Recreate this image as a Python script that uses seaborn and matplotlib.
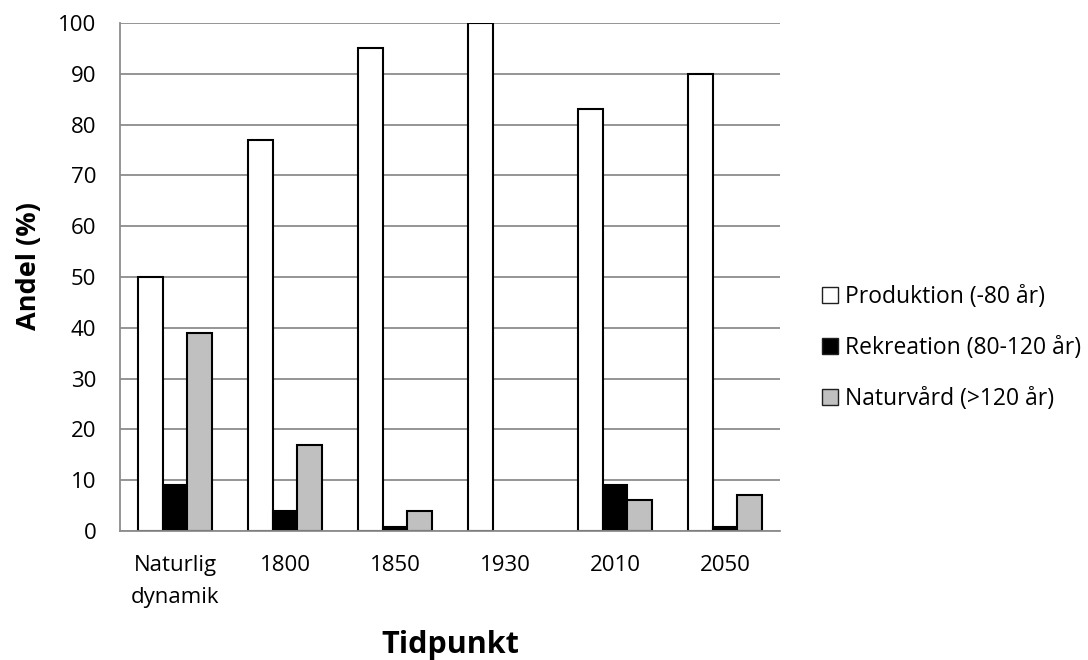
import matplotlib
matplotlib.use("Agg")
import matplotlib.pyplot as plt
import seaborn as sns
import pandas as pd
from matplotlib.patches import Patch

categories = ["Naturlig\ndynamik", "1800", "1850", "1930", "2010", "2050"]
series_names = ["Produktion (-80 år)", "Rekreation (80-120 år)", "Naturvård (>120 år)"]
produktion = [50, 77, 95, 100, 83, 90]
rekreation = [9, 4, 0.8, 0, 9, 0.8]
naturvard = [39, 17, 4, 0, 6, 7]
colors = ["#ffffff", "#000000", "#c0c0c0"]

rows = []
for name, vals in zip(series_names, [produktion, rekreation, naturvard]):
    for c, v in zip(categories, vals):
        rows.append({"Tidpunkt": c, "Serie": name, "Andel": v})
df = pd.DataFrame(rows)

sns.set_theme(style="white")
plt.rcParams["font.family"] = ["Open Sans", "DejaVu Sans"]
plt.rcParams["text.color"] = "black"
plt.rcParams["axes.labelcolor"] = "black"

fig = plt.figure(figsize=(10.88, 6.6), dpi=100)
ax = fig.add_axes([0.1103, 0.1955, 0.6066, 0.7697])

sns.barplot(data=df, x="Tidpunkt", y="Andel", hue="Serie", order=categories,
            hue_order=series_names, palette=colors, edgecolor="black",
            linewidth=1.5, width=0.68, ax=ax, legend=False, saturation=1)

# hide zero-height bars
for p in ax.patches:
    if p.get_height() == 0:
        p.set_visible(False)

ax.set_ylim(0, 100)
ax.set_xlim(-0.5, len(categories) - 0.5)
ax.set_yticks(range(0, 101, 10))
ax.yaxis.grid(True, color="#8c8c8c", linewidth=1.3)
ax.set_axisbelow(True)
for s in ["top", "right"]:
    ax.spines[s].set_visible(False)
for s in ["left", "bottom"]:
    ax.spines[s].set_color("#8c8c8c")
    ax.spines[s].set_linewidth(1.3)
ax.tick_params(axis="both", labelsize=16, colors="black", length=0, pad=17)
for t in ax.get_xticklabels():
    t.set_linespacing(1.7)
ax.set_xlabel("Tidpunkt", fontsize=22, fontweight="bold")
ax.set_ylabel("Andel (%)", fontsize=19.5, fontweight="bold")
ax.xaxis.set_label_coords(0.5, -0.195)
ax.yaxis.set_label_coords(-0.118, 0.522)

handles = [Patch(facecolor=c, edgecolor="#202020", linewidth=1.0) for c in colors]
fig.legend(handles, series_names, loc="center left", bbox_to_anchor=(0.7555, 0.4727),
           frameon=False, fontsize=16.5, handlelength=0.7, handleheight=0.7,
           handletextpad=0.3, labelspacing=1.17, borderaxespad=0, borderpad=0)

fig.savefig("out.png", dpi=100)
